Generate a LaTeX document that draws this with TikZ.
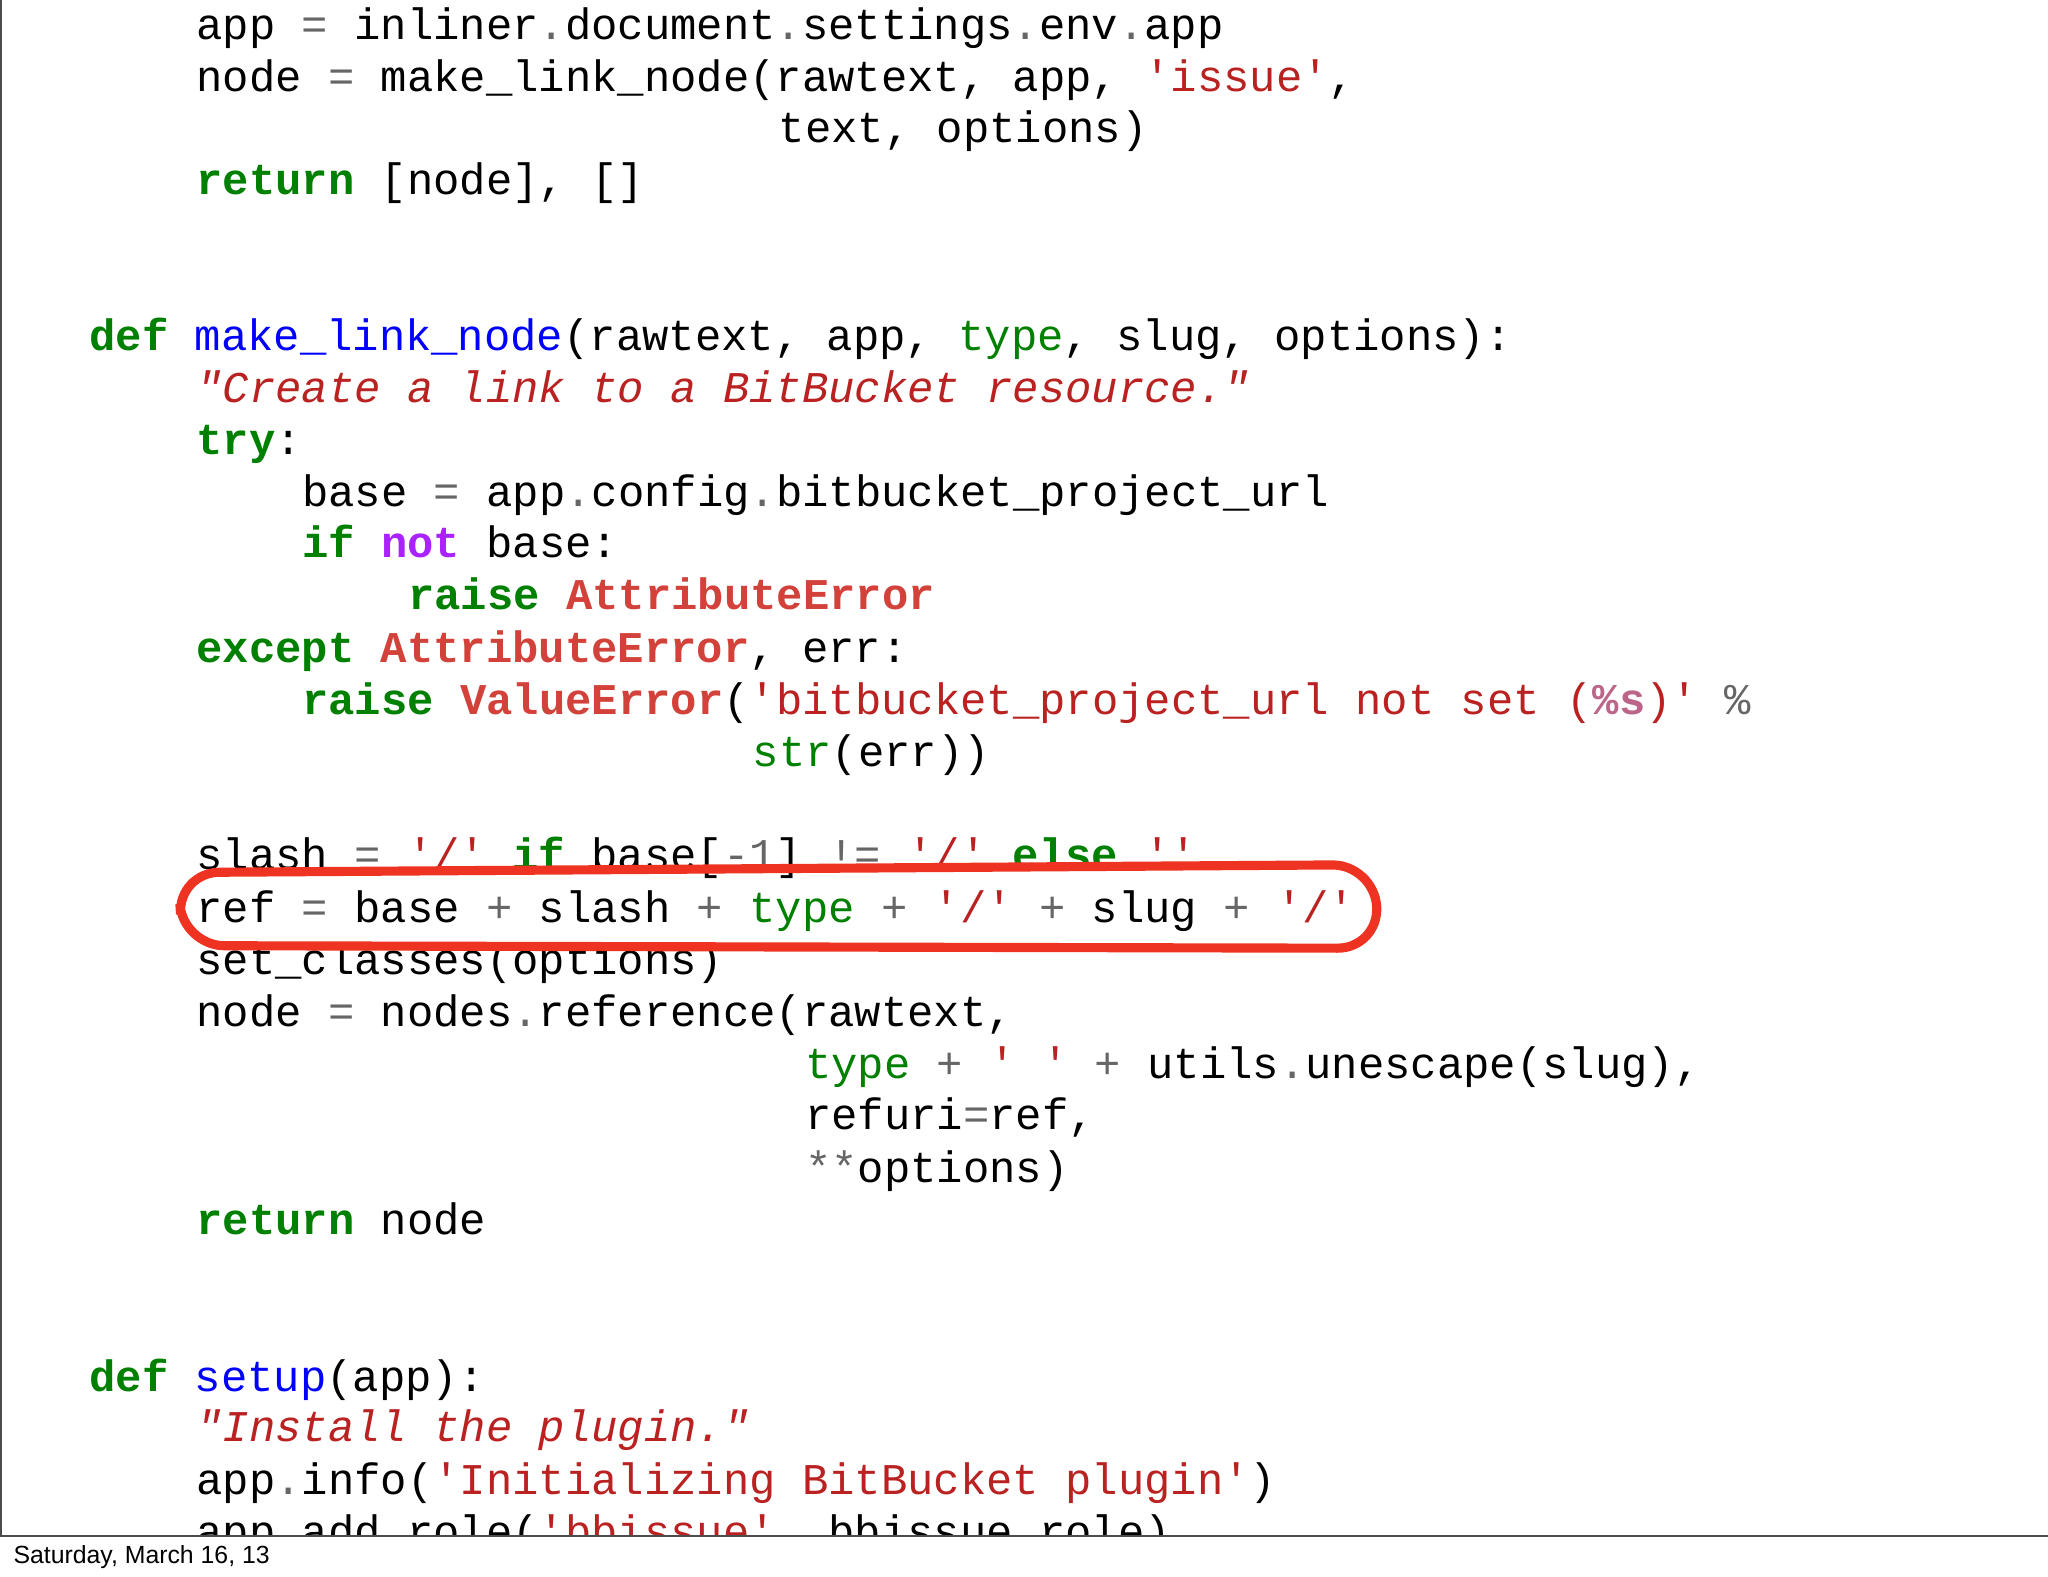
\documentclass[tikz,border=0pt]{standalone}
\usepackage{fontspec}
\setmainfont{Liberation Sans}
\newfontfamily\codefont{Liberation Mono}
\definecolor{kw}{HTML}{008000}
\definecolor{fn}{HTML}{0000FF}
\definecolor{st}{HTML}{BA2121}
\definecolor{ex}{HTML}{D2413A}
\definecolor{op}{HTML}{666666}
\definecolor{ow}{HTML}{AA22FF}
\definecolor{si}{HTML}{BB6688}
\definecolor{hl}{HTML}{EE3322}
\newcommand\K[1]{\textcolor{kw}{\bfseries #1}}
\newcommand\F[1]{\textcolor{fn}{#1}}
\newcommand\Bi[1]{\textcolor{kw}{#1}}
\newcommand\Sg[1]{\textcolor{st}{#1}}
\newcommand\E[1]{\textcolor{ex}{\bfseries #1}}
\newcommand\Op[1]{\textcolor{op}{#1}}
\newcommand\W[1]{\textcolor{ow}{\bfseries #1}}
\newcommand\Ip[1]{\textcolor{si}{\bfseries #1}}
\newcommand\Dc[1]{\textcolor{st}{\itshape #1}}
\newcommand\q{\char39\relax}
\begin{document}
\begin{tikzpicture}[x=0.5pt,y=-0.5pt,
  cl/.style={anchor=base west,inner sep=0pt,font=\codefont\fontsize{16.8pt}{19pt}\selectfont}]
\fill[white] (0,0) rectangle (1568,1207);
\useasboundingbox (0,0) rectangle (1568,1207);
\begin{scope}
\clip (0,0) rectangle (1568,1176);
\node[cl] (l0) at (150,30) {app \Op{=} inliner\Op{.}document\Op{.}settings\Op{.}env\Op{.}app};
\node[cl] (l1) at (150,70) {node \Op{=} make\_link\_node(rawtext, app, \Sg{\q issue\q},};
\node[cl] (l2) at (596,109) {text, options)};
\node[cl] (l3) at (150,149) {\K{return} [node], []};
\node[cl] (l6) at (68,268) {\K{def} \F{make\_link\_node}(rawtext, app, \Bi{type}, slug, options):};
\node[cl] (l7) at (150,308) {\Dc{"Create a link to a BitBucket resource."}};
\node[cl] (l8) at (150,348) {\K{try}:};
\node[cl] (l9) at (231,388) {base \Op{=} app\Op{.}config\Op{.}bitbucket\_project\_url};
\node[cl] (l10) at (231,427) {\K{if} \W{not} base:};
\node[cl] (l11) at (312,467) {\K{raise} \E{AttributeError}};
\node[cl] (l12) at (150,507) {\K{except} \E{AttributeError}, err:};
\node[cl] (l13) at (231,547) {\K{raise} \E{ValueError}(\Sg{\q bitbucket\_project\_url not set (}\Ip{\%s}\Sg{)\q} \Op{\%}};
\node[cl] (l14) at (576,587) {\Bi{str}(err))};
\node[cl] (l16) at (150,666) {slash \Op{=} \Sg{\q/\q} \K{if} base[\Op{-1}] \Op{!=} \Sg{\q/\q} \K{else} \Sg{\q\q}};
\node[cl] (l17) at (150,706) {ref \Op{=} base \Op{+} slash \Op{+} \Bi{type} \Op{+} \Sg{\q/\q} \Op{+} slug \Op{+} \Sg{\q/\q}};
\node[cl] (l18) at (150,746) {set\_classes(options)};
\node[cl] (l19) at (150,786) {node \Op{=} nodes\Op{.}reference(rawtext,};
\node[cl] (l20) at (616,826) {\Bi{type} \Op{+} \Sg{\q\ \q} \Op{+} utils\Op{.}unescape(slug),};
\node[cl] (l21) at (616,865) {refuri\Op{=}ref,};
\node[cl] (l22) at (616,905) {\Op{**}options)};
\node[cl] (l23) at (150,945) {\K{return} node};
\node[cl] (l26) at (68,1065) {\K{def} \F{setup}(app):};
\node[cl] (l27) at (150,1104) {\Dc{"Install the plugin."}};
\node[cl] (l28) at (150,1144) {app\Op{.}info(\Sg{\q Initializing BitBucket plugin\q})};
\node[cl] (l29) at (150,1184) {app\Op{.}add\_role(\Sg{\q bbissue\q}, bbissue\_role)};
\end{scope}
\draw[hl,line width=3.5pt,rounded corners=16pt] (136,668) -- (1052,662) -- (1056,726) -- (140,724) -- cycle;
\draw[black!70,line width=0.8pt] (0.4,0) -- (0.4,1176) -- (1568,1176);
\node[anchor=base west,inner sep=0pt,font=\fontsize{9.5pt}{11pt}\selectfont] (foot) at (10,1197) {Saturday, March 16, 13};
\end{tikzpicture}
\end{document}
